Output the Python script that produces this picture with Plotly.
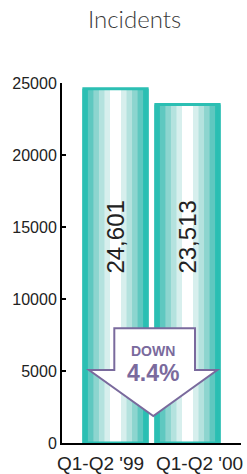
import plotly.graph_objects as go

# ---- data ----
categories = ["Q1-Q2 '99", "Q1-Q2 '00"]
incidents = [24601, 23513]
y_ticks = [0, 5000, 10000, 15000, 20000, 25000]
title_text = "Incidents"
change_label = "DOWN"
change_value = "4.4%"

# ---- style ----
W, H = 247, 474
ML, MR, MT, MB = 62, 6, 83, 31
PW, PH = W - ML - MR, H - MT - MB
TEAL = "#2bbfb3"
PURPLE = "#7a6a9d"
stripe_colors = [TEAL, "#5fc8c0", "#8dd5cf", "#b4e2de", "#d7efed", "#ffffff"]
full_w = 0.92
stripe_widths = [full_w * (1 - i / 6) for i in range(6)]

xs = list(range(len(categories)))

fig = go.Figure()
for c, w in zip(stripe_colors, stripe_widths):
    fig.add_trace(go.Bar(x=xs, y=incidents, width=[w] * len(xs),
                         marker=dict(color=c, line=dict(width=0)),
                         hoverinfo="skip", showlegend=False))
# outline
fig.add_trace(go.Bar(x=xs, y=incidents, width=[full_w - 3 / 72] * len(xs),
                     marker=dict(color="rgba(0,0,0,0)", line=dict(color=TEAL, width=3)),
                     hoverinfo="skip", showlegend=False))

def px_x(p):
    return (p - ML) / PW

def px_y(p):
    return (MT + PH - p) / PH

annotations = []
# values inside bars
for i, v in zip(xs, incidents):
    annotations.append(dict(x=i, y=14300, xref="x", yref="y", text=f"{v:,}",
                            textangle=-90, showarrow=False,
                            font=dict(family="Liberation Sans, Arial", size=24, color="#222")))
# category labels (offset, as in reference)
label_shift = [-15, 12]
for i, c, s in zip(xs, categories, label_shift):
    annotations.append(dict(x=i, y=0, xref="x", yref="y", text=c, showarrow=False,
                            xshift=s, yshift=-20, xanchor="center", yanchor="middle",
                            font=dict(family="Liberation Sans, Arial", size=19, color="#222")))
# title
annotations.append(dict(x=px_x(134.5), y=px_y(19), xref="paper", yref="paper",
                        xanchor="center", yanchor="middle", text=title_text, showarrow=False,
                        font=dict(family="Lato", size=24, color="#3a3a3a", weight=300)))
# arrow text
annotations.append(dict(x=px_x(153), y=px_y(351), xref="paper", yref="paper",
                        xanchor="center", yanchor="middle",
                        text=f"<b>{change_label}</b>", showarrow=False,
                        font=dict(family="Liberation Sans, Arial", size=14, color=PURPLE)))
annotations.append(dict(x=px_x(152.5), y=px_y(372.5), xref="paper", yref="paper",
                        xanchor="center", yanchor="middle",
                        text=f"<b>{change_value}</b>", showarrow=False,
                        font=dict(family="Liberation Sans, Arial", size=23, color=PURPLE)))

pts = [(114.3, 328.3), (195, 328.3), (195, 370), (217.3, 370), (153.3, 416),
       (89, 370), (114.3, 370)]
path = "M " + " L ".join(f"{px_x(a):.4f},{px_y(b):.4f}" for a, b in pts) + " Z"

fig.update_layout(
    width=W, height=H,
    margin=dict(l=ML, r=MR, t=MT, b=MB, pad=0),
    paper_bgcolor="white", plot_bgcolor="white",
    barmode="overlay",
    shapes=[dict(type="path", xref="paper", yref="paper", path=path,
                 fillcolor="white", line=dict(color=PURPLE, width=2), layer="above")],
    annotations=annotations,
    xaxis=dict(range=[-0.743, 1.743], showgrid=False, zeroline=False,
               showline=True, linecolor="black", linewidth=2,
               tickvals=[1.74], ticks="inside", ticklen=8, tickwidth=2, tickcolor="black",
               showticklabels=False, fixedrange=True),
    yaxis=dict(range=[0, 25000], showgrid=False, zeroline=False,
               showline=True, linecolor="black", linewidth=2,
               tickvals=y_ticks, tickformat="d", ticks="inside", ticklen=4, tickwidth=2,
               tickcolor="black",
               tickfont=dict(family="Liberation Sans, Arial", size=16, color="#222"),
               ticklabelstandoff=0, fixedrange=True),
)

fig.write_html("out.html", config={"displayModeBar": False},
               post_script="document.body.style.margin='0';")
